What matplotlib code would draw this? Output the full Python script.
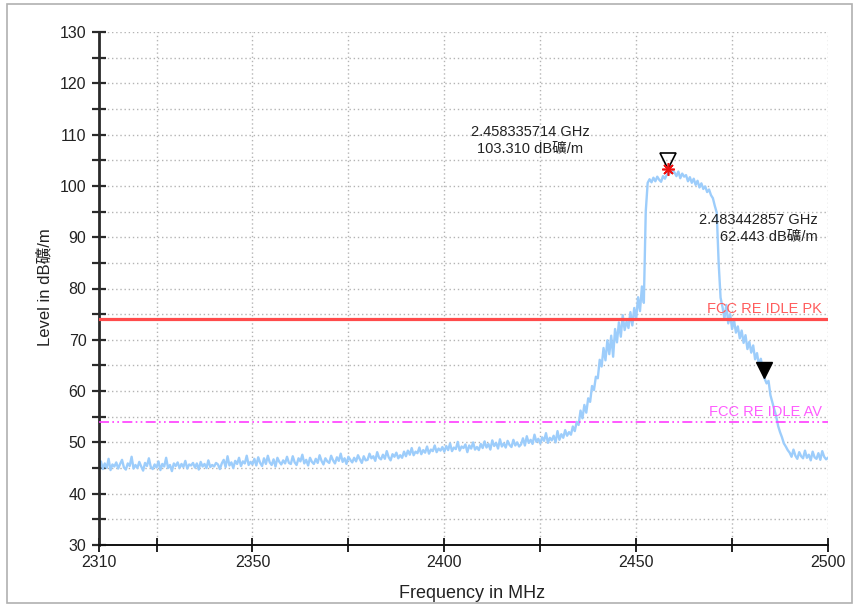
import numpy as np
import matplotlib
matplotlib.use("Agg")
import matplotlib.pyplot as plt
import matplotlib.transforms as mtransforms
from matplotlib.patches import Rectangle
from matplotlib import font_manager

plt.rcParams['font.family'] = ['Liberation Sans', 'Noto Sans CJK KR', 'DejaVu Sans']
_names = {f.name for f in font_manager.fontManager.ttflist}
narrow = 'Liberation Sans Narrow' if 'Liberation Sans Narrow' in _names else 'Liberation Sans'
tick_fs = 12 if narrow == 'Liberation Sans Narrow' else 11.5

# ---------------- data ----------------
freq_start = 2310.0
freq_step = 0.5
level = [
    45.2, 46.3, 44.8, 45.9, 45.0, 46.8, 44.6, 45.7, 45.3, 46.1, 44.9, 45.8, 46.6, 45.1, 44.7, 45.9, 45.4, 47.2, 44.9, 45.6,
    45.0, 46.2, 45.3, 44.5, 46.0, 45.4, 46.9, 45.2, 44.8, 45.7, 45.1, 46.3, 44.6, 45.8, 45.3, 47.0, 45.0, 45.6, 44.4, 45.9,
    45.4, 46.1, 45.0, 45.8, 45.2, 46.4, 44.9, 45.7, 45.5, 46.0, 45.1, 45.9, 44.7, 46.2, 45.3, 45.8, 45.0, 46.5, 45.2, 45.6,
    45.3, 46.0, 45.7, 44.8, 45.9, 46.6, 45.2, 47.3, 45.5, 46.1, 45.0, 46.4, 45.8, 47.0, 45.4, 46.3, 45.9, 47.4, 45.6, 46.2,
    45.7, 46.8, 45.5, 47.1, 46.0, 45.4, 46.9, 45.8, 47.4, 46.1, 45.6, 46.7, 45.3, 47.0, 46.2, 45.7, 46.5, 45.9, 47.2, 46.0,
    45.8, 47.3, 46.1, 45.6, 46.9, 46.3, 47.6, 45.9, 46.6, 45.5, 47.0, 46.2, 45.8, 46.8, 46.0, 47.5, 46.4, 45.7, 46.9, 46.3,
    46.0, 47.4, 46.5, 45.9, 47.1, 46.4, 47.8, 46.2, 46.9, 45.8, 47.2, 46.6, 46.1, 47.0, 46.3, 47.5, 46.7, 46.0, 47.3, 46.5,
    46.6, 47.8, 46.9, 47.3, 46.4, 48.1, 47.0, 46.7, 47.6, 46.8, 48.3, 47.1, 46.5, 47.7, 47.2, 48.0, 46.9, 47.5, 47.0, 48.2,
    47.3, 48.4, 47.6, 48.9, 47.5, 48.2, 47.9, 49.0, 47.7, 48.5, 48.0, 49.2, 47.8, 48.6, 48.3, 49.4, 48.1, 48.8, 48.4, 49.1,
    48.2, 49.3, 48.5, 49.8, 48.3, 49.0, 48.7, 50.1, 48.4, 49.2, 48.9, 49.6, 48.1, 49.4, 48.8, 50.0, 48.6, 49.1, 48.5, 49.7,
    48.9, 50.2, 49.0, 49.7, 48.6, 50.4, 49.3, 49.9, 48.8, 50.6, 49.2, 49.8, 49.0, 50.3, 49.5, 49.1, 50.5, 49.4, 50.0, 49.2,
    49.6, 50.8, 49.4, 51.2, 49.9, 50.5, 49.7, 51.5, 50.1, 50.7, 49.8, 51.0, 50.3, 51.8, 49.9, 50.9, 50.4, 51.3, 50.0, 52.2,
    50.5, 51.6, 50.9, 52.4, 51.3, 52.0, 51.5, 53.1, 52.2, 54.0, 53.4, 56.2, 54.7, 57.3, 55.8, 58.6, 57.9, 61.0, 60.2, 62.8,
    62.5, 66.1, 64.8, 68.4, 66.0, 69.9, 67.2, 70.8, 66.7, 72.1, 69.5, 73.4, 70.6, 74.8, 71.9, 73.6, 72.3, 75.4, 72.8, 76.2,
    74.1, 78.3, 75.6, 80.4, 77.2, 95.0, 100.6, 101.3, 100.7, 101.6, 100.9, 101.8, 101.2, 100.8, 101.9, 101.4, 102.2, 103.3, 102.5, 102.9,
    102.6, 101.9, 102.8, 101.5, 102.4, 101.8, 102.1, 100.9, 101.7, 100.6, 101.4, 100.2, 101.0, 99.7, 100.5, 99.4, 99.9, 98.8, 99.3, 98.2,
    97.6, 96.1, 94.8, 85.0, 78.2, 76.4, 74.1, 76.8, 73.2, 75.0, 72.1, 73.9, 71.4, 72.6, 70.3, 71.8, 69.4, 70.9, 68.2, 69.6,
    67.5, 68.9, 66.2, 67.4, 65.1, 66.3, 64.0, 62.4, 61.5, 62.0, 59.2, 57.8, 56.4, 55.1, 53.2, 52.0, 51.0, 49.8, 49.2, 48.5,
    48.0, 47.2, 48.6, 47.4, 46.8, 48.1, 47.3, 46.9, 48.4, 47.0, 47.6, 46.5, 48.2, 47.1, 46.8, 47.9, 46.6, 48.3, 47.2, 46.7,
    47.0,
]
freq = freq_start + freq_step * np.arange(len(level))

limit_pk = 74.0
limit_av = 54.0
limit_pk_label = "FCC RE IDLE PK"
limit_av_label = "FCC RE IDLE AV"

marker_freqs = [2458.335714, 2483.442857]
marker_levels = [103.310, 62.443]
marker_texts = ["2.458335714 GHz\n103.310 dB礦/m", "2.483442857 GHz\n62.443 dB礦/m"]

x_ticks = [2310, 2325, 2350, 2375, 2400, 2425, 2450, 2475, 2500]
x_labels = ["2310", "", "2350", "", "2400", "", "2450", "", "2500"]
y_major = list(range(30, 131, 10))
y_minor = list(range(35, 130, 10))

# ---------------- figure ----------------
fig = plt.figure(figsize=(8.54, 6.05), dpi=100)
fig.patch.set_facecolor('white')
ax = fig.add_axes([99 / 854, 1 - 545 / 605, 729 / 854, 513 / 605])

ax.set_xlim(2310, 2500)
ax.set_ylim(30, 130)

ax.grid(False)
for xv in x_ticks[1:]:
    ax.axvline(xv, color='#b4b4b4', lw=1.0, ls=(0, (1, 2)), zorder=0)
for yv in range(35, 131, 5):
    ax.axhline(yv, color='#b4b4b4', lw=1.0, ls=(0, (1, 2)), zorder=0)

ax.plot(freq, level, color='#9dcdfb', lw=1.7, zorder=2)

ax.axhline(limit_pk, color='#ff4b4b', lw=2.3, zorder=3)
ax.axhline(limit_av, color='#ff3cff', lw=1.2, ls=(0, (6, 2, 1, 2, 1, 2)), zorder=3)
ax.text(2498.5, limit_pk + 0.6, limit_pk_label, color='#ff5c5c', fontsize=10.5,
        ha='right', va='bottom', zorder=4)
ax.text(2498.5, limit_av + 0.6, limit_av_label, color='#ff5cff', fontsize=10.5,
        ha='right', va='bottom', zorder=4)

# markers
tri_off = mtransforms.offset_copy(ax.transData, fig=fig, x=0, y=6, units='points')
ax.plot([marker_freqs[0]], [marker_levels[0]], marker='v', ms=11, mfc='none', mec='black',
        mew=1.2, transform=tri_off, zorder=6, ls='none')
ax.plot([marker_freqs[0]], [marker_levels[0]], marker=(8, 2, 0), ms=9, color='#ee1111',
        mew=1.2, zorder=7, ls='none')
ax.plot([marker_freqs[1]], [marker_levels[1]], marker='v', ms=12, color='black',
        transform=tri_off, zorder=6, ls='none')

ax.text(2422.3, 108.9, marker_texts[0], ha='center', va='center', fontsize=10.5,
        linespacing=1.25, color='#222222', zorder=5)
ax.text(2497.3, 91.8, marker_texts[1], ha='right', va='center', fontsize=10.5,
        linespacing=1.25, color='#222222', zorder=5, multialignment='right')

# axes styling
for s in ['top', 'right']:
    ax.spines[s].set_visible(False)
ax.spines['left'].set_color('#2a2a2a')
ax.spines['left'].set_linewidth(2.0)
ax.spines['bottom'].set_color('#111111')
ax.spines['bottom'].set_linewidth(1.4)

ax.set_xticks(x_ticks)
ax.set_xticklabels(x_labels)
ax.set_yticks(y_major)
ax.set_yticks(y_minor, minor=True)
ax.tick_params(axis='y', which='both', direction='inout', length=10, width=1.6,
               color='#2a2a2a', labelsize=tick_fs, pad=4, labelcolor='#222222')
ax.tick_params(axis='x', which='both', direction='inout', length=10, width=1.3,
               color='#111111', labelsize=tick_fs, pad=2, labelcolor='#222222')
for lab in ax.get_xticklabels() + ax.get_yticklabels():
    lab.set_family([narrow, 'DejaVu Sans'])

fig.text(45 / 854, 1 - 287 / 605, "Level in dB礦/m", rotation=90, ha='center', va='center',
         fontsize=12, color='#222222')
fig.text(472 / 854, 1 - 594 / 605, "Frequency in MHz", ha='center', va='center',
         fontsize=13, color='#222222')

# outer frame
fig.patches.append(Rectangle((7 / 854, 1 - 603 / 605), 845 / 854, 599 / 605,
                             transform=fig.transFigure, fill=False, ec='#b0b0b0', lw=1.2))

fig.savefig("out.png", dpi=100, facecolor='white')
